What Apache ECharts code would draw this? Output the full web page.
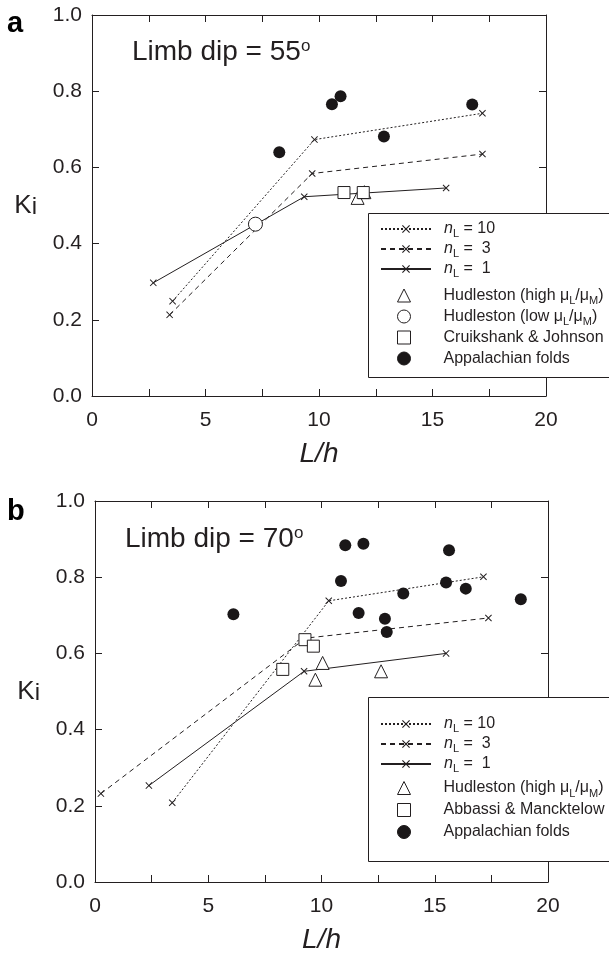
<!DOCTYPE html>
<html><head><meta charset="utf-8">
<script src="https://cdn.jsdelivr.net/npm/echarts@6/dist/echarts.min.js"></script>
<style>html,body{margin:0;padding:0;background:#fff}#c{width:609px;height:953px}</style>
</head><body><div id="c"></div>
<script>
// ---------- data (panel a: limb dip 55°) ----------
const xTickValues = [0, 5, 10, 15, 20];
const yTickLabels = ['0.0', '0.2', '0.4', '0.6', '0.8', '1.0'];

const a_nL10_x = [3.55, 9.8, 17.2];
const a_nL10_y = [0.249, 0.673, 0.742];
const a_nL3_x = [3.42, 9.7, 17.2];
const a_nL3_y = [0.213, 0.584, 0.635];
const a_nL1_x = [2.7, 9.35, 15.6];
const a_nL1_y = [0.297, 0.523, 0.546];
const a_hudHigh = [[11.7, 0.520], [12.0, 0.535]];
const a_hudLow = [[7.2, 0.451]];
const a_cruik = [[11.1, 0.534], [11.95, 0.534]];
const a_appal = [[8.25, 0.640], [10.57, 0.766], [10.95, 0.787], [12.86, 0.681], [16.75, 0.765]];

// ---------- data (panel b: limb dip 70°) ----------
const b_nL10_x = [3.41, 10.32, 17.15];
const b_nL10_y = [0.208, 0.738, 0.801];
const b_nL3_x = [0.26, 9.3, 17.37];
const b_nL3_y = [0.232, 0.640, 0.693];
const b_nL1_x = [2.38, 9.23, 15.5];
const b_nL1_y = [0.253, 0.553, 0.600];
const b_hudHigh = [[10.05, 0.575], [9.73, 0.531], [12.63, 0.553]];
const b_abbassi = [[9.27, 0.636], [9.64, 0.619], [8.29, 0.558]];
const b_appal = [[6.11, 0.703], [10.86, 0.790], [11.05, 0.884], [11.85, 0.888], [11.64, 0.706],
  [12.8, 0.691], [12.88, 0.656], [13.61, 0.757], [15.5, 0.786], [15.63, 0.871], [16.37, 0.770], [18.8, 0.742]];

// ---------- styling ----------
const FF = '"Liberation Sans", Arial, sans-serif';
const TXT = '#231f20';
const LC = '#231f20';
const XPATH = 'path://M0,1L1,0L5,4L9,0L10,1L6,5L10,9L9,10L5,6L1,10L0,9L4,5Z';
const zip = (xs, ys) => xs.map((x, i) => [x, ys[i]]);

const legendNames = {
  nL10: '{i|n}{sub|L} = 10',
  nL3: '{i|n}{sub|L} =  3',
  nL1: '{i|n}{sub|L} =  1',
  hudHigh: 'Hudleston (high μ{sub|L}/μ{sub|M})',
  hudLow: 'Hudleston (low μ{sub|L}/μ{sub|M})',
  cruik: 'Cruikshank & Johnson',
  abbassi: 'Abbassi & Mancktelow',
  appal: 'Appalachian folds'
};

function xAx(g, pos, main) {
  return {
    type: 'value', gridIndex: g, position: pos, min: 0, max: 20, interval: 2.5,
    axisLine: { show: true, onZero: false, lineStyle: { color: LC, width: 1 } },
    axisTick: { show: true, inside: true, length: 7, lineStyle: { color: LC, width: 1 } },
    axisLabel: { show: main, margin: 14, fontSize: 21, color: TXT, fontFamily: FF,
      formatter: v => (xTickValues.indexOf(v) >= 0 ? String(v) : '') },
    splitLine: { show: false },
    name: main ? 'L/h' : '', nameLocation: 'middle', nameGap: 44,
    nameTextStyle: { fontSize: 28, fontStyle: 'italic', color: TXT, fontFamily: FF }
  };
}
function yAx(g, pos, main) {
  return {
    type: 'value', gridIndex: g, position: pos, min: 0, max: 1, interval: 0.2,
    axisLine: { show: true, onZero: false, lineStyle: { color: LC, width: 1 } },
    axisTick: { show: true, inside: true, length: 7, lineStyle: { color: LC, width: 1 } },
    axisLabel: { show: main, margin: 10, fontSize: 21, color: TXT, fontFamily: FF,
      formatter: v => yTickLabels[Math.round(v * 5)] },
    splitLine: { show: false },
    name: main ? '{k|K}{i|i}' : '', nameLocation: 'middle', nameRotate: 0, nameGap: 55,
    nameTextStyle: { color: TXT, fontFamily: FF, rich: {
      k: { fontSize: 26, lineHeight: 27, color: TXT, fontFamily: FF },
      i: { fontSize: 24, lineHeight: 24, verticalAlign: 'bottom', color: TXT, fontFamily: FF } } }
  };
}

function lineSeries(name, xi, data, dash) {
  return { type: 'line', name, xAxisIndex: xi, yAxisIndex: xi, data, symbol: XPATH, symbolSize: 7,
    showSymbol: true, lineStyle: { color: LC, width: 1, type: dash }, itemStyle: { color: LC }, z: 2 };
}
function openSeries(name, xi, data, sym, size) {
  return { type: 'scatter', name, xAxisIndex: xi, yAxisIndex: xi, data, symbol: sym, symbolSize: size,
    itemStyle: { color: '#fff', borderColor: LC, borderWidth: 1, opacity: 1 }, z: 3 };
}
function dotSeries(name, xi, data) {
  return { type: 'scatter', name, xAxisIndex: xi, yAxisIndex: xi, data, symbol: 'circle', symbolSize: 12,
    itemStyle: { color: '#1a1718', borderColor: '#1a1718', borderWidth: 0, opacity: 1 }, z: 3 };
}

const richLegend = (lh) => ({
  i: { fontStyle: 'italic', fontSize: 16, lineHeight: lh, color: TXT, fontFamily: FF },
  sub: { fontSize: 11, lineHeight: 11, verticalAlign: 'bottom', color: TXT, fontFamily: FF }
});
function legendLines(top, names, lh) {
  return { orient: 'vertical', left: 380, top, padding: 0, itemGap: 0, itemWidth: 50, itemHeight: 10,
    selectedMode: false, data: names, formatter: n => legendNames[n], z: 5,
    textStyle: { fontSize: 16, color: TXT, fontFamily: FF, lineHeight: lh, padding: [0, 0, 0, 8], rich: richLegend(lh) } };
}
function legendSyms(top, names, lh) {
  return { orient: 'vertical', left: 397, top, padding: 0, itemGap: 0, itemWidth: 13, itemHeight: 13,
    selectedMode: false, data: names, formatter: n => legendNames[n], z: 5,
    itemStyle: { borderWidth: 1 },
    textStyle: { fontSize: 16, color: TXT, fontFamily: FF, lineHeight: lh, padding: [0, 0, 0, 28], rich: richLegend(lh) } };
}

const chart = echarts.init(document.getElementById('c'), null, { renderer: 'canvas' });
chart.setOption({
  animation: false,
  backgroundColor: '#fff',
  grid: [
    { left: 92, top: 15, width: 454, height: 381, outerBoundsMode: 'none' },
    { left: 95, top: 501, width: 453, height: 381, outerBoundsMode: 'none' }
  ],
  xAxis: [xAx(0, 'bottom', true), xAx(0, 'top', false), xAx(1, 'bottom', true), xAx(1, 'top', false)],
  yAxis: [yAx(0, 'left', true), yAx(0, 'right', false), yAx(1, 'left', true), yAx(1, 'right', false)],
  legend: [
    legendLines(219, ['nL10', 'nL3', 'nL1'], 20),
    legendSyms(285, ['hudHigh', 'hudLow', 'cruik', 'appal'], 21),
    legendLines(714, ['nL10', 'nL3', 'nL1'], 20),
    legendSyms(777, ['hudHigh', 'abbassi', 'appal'], 22)
  ],
  graphic: [
    { type: 'rect', z: 3, shape: { x: 368.5, y: 213.5, width: 260, height: 164 },
      style: { fill: '#fff', stroke: LC, lineWidth: 1 } },
    { type: 'rect', z: 3, shape: { x: 368.5, y: 697.5, width: 260, height: 164 },
      style: { fill: '#fff', stroke: LC, lineWidth: 1 } },
    { type: 'text', z: 5, left: 7, top: 9, style: { text: 'a', font: 'bold 29px ' + FF, fill: '#000' } },
    { type: 'text', z: 5, left: 7, top: 497, style: { text: 'b', font: 'bold 29px ' + FF, fill: '#000' } },
    { type: 'text', z: 5, left: 132, top: 38, style: { text: 'Limb dip = 55{s|o}', font: '28px ' + FF, fill: TXT,
      rich: { s: { fontSize: 17, lineHeight: 17, verticalAlign: 'top', fontFamily: FF, fill: TXT } } } },
    { type: 'text', z: 5, left: 125, top: 525, style: { text: 'Limb dip = 70{s|o}', font: '28px ' + FF, fill: TXT,
      rich: { s: { fontSize: 17, lineHeight: 17, verticalAlign: 'top', fontFamily: FF, fill: TXT } } } }
  ],
  series: [
    lineSeries('nL10', 0, zip(a_nL10_x, a_nL10_y), [2, 2]),
    lineSeries('nL3', 0, zip(a_nL3_x, a_nL3_y), [5, 4]),
    lineSeries('nL1', 0, zip(a_nL1_x, a_nL1_y), 'solid'),
    openSeries('hudHigh', 0, a_hudHigh, 'triangle', 13),
    openSeries('hudLow', 0, a_hudLow, 'circle', 14),
    openSeries('cruik', 0, a_cruik, 'rect', 12),
    dotSeries('appal', 0, a_appal),
    lineSeries('nL10', 2, zip(b_nL10_x, b_nL10_y), [2, 2]),
    lineSeries('nL3', 2, zip(b_nL3_x, b_nL3_y), [5, 4]),
    lineSeries('nL1', 2, zip(b_nL1_x, b_nL1_y), 'solid'),
    openSeries('hudHigh', 2, b_hudHigh, 'triangle', 13),
    openSeries('abbassi', 2, b_abbassi, 'rect', 12),
    dotSeries('appal', 2, b_appal)
  ]
});
</script></body></html>
